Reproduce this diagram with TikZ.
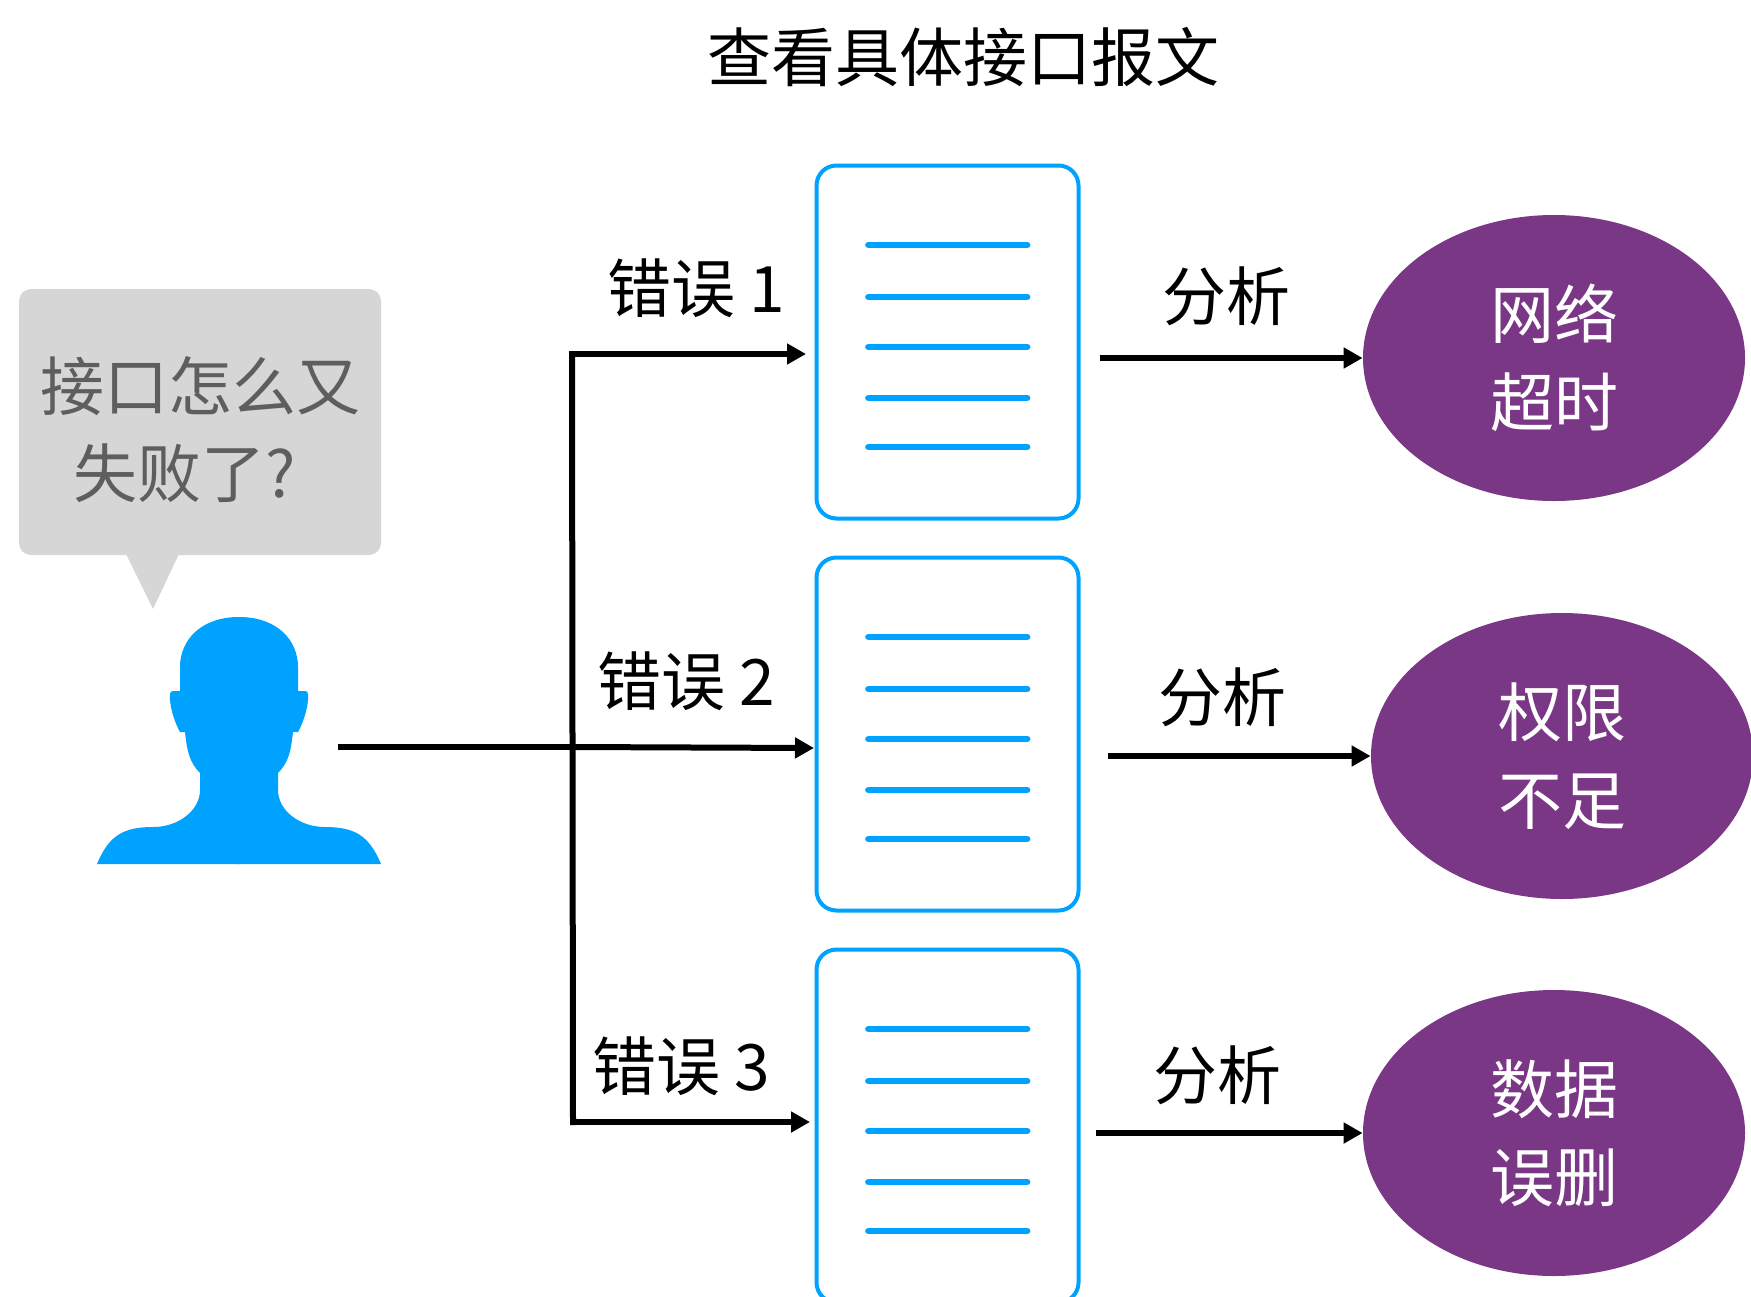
\documentclass[tikz,border=0pt]{standalone}
\usepackage{fontspec}
\setmainfont{Noto Sans CJK SC}
\usetikzlibrary{shapes.geometric}
\usetikzlibrary{arrows.meta}
\definecolor{logBlue}{RGB}{0,162,255}
\definecolor{problemPurple}{RGB}{122,55,133}
\definecolor{bubbleGrey}{RGB}{214,214,214}
\definecolor{bubbleText}{RGB}{94,94,94}
\tikzstyle{pagePixels} = [x = .5pt, y = -.5pt]
\tikzstyle{logBoxStyle} = [draw=logBlue, line width=2pt, rounded corners=10pt, minimum width=131pt, minimum height=176.5pt, inner sep=0pt]
\tikzstyle{logLine} = [color=logBlue, line width=3.4pt, line cap=round]
\tikzstyle{problemStyle} = [ellipse, fill=problemPurple, text=white, minimum width=191pt, minimum height=143pt, inner sep=0pt, align=center, font=\fontsize{32}{44}\selectfont]
\tikzstyle{flowLine} = [color=black, line width=3pt]
\tikzstyle{flowArrow} = [flowLine, -{Triangle[length=9.5pt, width=10pt]}]
\tikzstyle{flowText} = [font=\fontsize{32}{36}\selectfont, inner sep=0pt]
\tikzstyle{bubbleTextStyle} = [font=\fontsize{32}{36}\selectfont, inner sep=0pt, text=bubbleText]
\newcommand{\logBox}[2]{
  \node [logBoxStyle] (#1) at (947.5, #2) {};
  \foreach \offset in {-97,-45,5,56,105} {
    \draw [logLine] (868.5, #2 + \offset) -- (1027, #2 + \offset);
  }
}
\begin{document}
\begin{tikzpicture}[pagePixels]
  \useasboundingbox (0,0) rectangle (1751,1296);

  \node [font=\fontsize{32}{36}\selectfont, inner sep=0pt] (title) at (963,57) {查看具体接口报文};

  % bubble
  \fill [bubbleGrey, rounded corners=6pt] (19,289) rectangle (381,555);
  \fill [bubbleGrey] (126,554) -- (179,554) -- (153,609) -- cycle;
  \node [bubbleTextStyle] (questionOne) at (200,386) {接口怎么又};
  \node [bubbleTextStyle] (questionTwo) at (185,473) {失败了?};

  % person
  \foreach \side in {1,-1} {
    \begin{scope}[shift={(239,0)}, xscale=\side]
      \fill [logBlue] (-1,617) -- (0,617) .. controls (38,617) and (59,640) .. (59,667)
        -- (59,691) -- (66,691) .. controls (70,691) and (69,696) .. (69,700)
        .. controls (68,712) and (63,725) .. (59,732) -- (54,732)
        .. controls (52,750) and (50,762) .. (39,773) -- (39,790)
        .. controls (39,810) and (60,827) .. (86,827)
        .. controls (115,827) and (130,835) .. (142,864) -- (-1,864) -- cycle;
    \end{scope}
  }

  \logBox{logOne}{342}
  \logBox{logTwo}{734}
  \logBox{logThree}{1126}

  \node [problemStyle] (problemOne) at (1554,358) {网络\\超时};
  \node [problemStyle] (problemTwo) at (1562,756) {权限\\不足};
  \node [problemStyle] (problemThree) at (1554,1133) {数据\\误删};

  \coordinate (userEnd) at (338,747);
  \coordinate (branchTop) at (572,354);
  \coordinate (branchMid) at (573,747);
  \coordinate (branchBottom) at (573,1122);
  \coordinate (errorOneEnd) at (806,354);
  \coordinate (errorTwoEnd) at (814,748);
  \coordinate (errorThreeEnd) at (810,1122);
  \coordinate (reasonOneStart) at (1100,358);
  \coordinate (reasonTwoStart) at (1108,756);
  \coordinate (reasonThreeStart) at (1096,1133);

  \draw [flowLine] (userEnd) -- (branchMid);
  \draw [flowArrow] (branchMid) -- (errorTwoEnd);
  \draw [flowArrow] (branchTop) -- (errorOneEnd);
  \draw [flowArrow] (branchBottom) -- (errorThreeEnd);
  \draw [flowLine, line cap=rect] (branchTop) -- (branchBottom);

  \draw [flowArrow] (reasonOneStart) -- (problemOne.west);
  \draw [flowArrow] (reasonTwoStart) -- (problemTwo.west);
  \draw [flowArrow] (reasonThreeStart) -- (problemThree.west);

  \node [flowText] (errorOne) at (696,288) {错误 1};
  \node [flowText] (errorTwo) at (686,681) {错误 2};
  \node [flowText] (errorThree) at (681,1066) {错误 3};
  \node [flowText] (reasonOne) at (1226,296) {分析};
  \node [flowText] (reasonTwo) at (1222,697) {分析};
  \node [flowText] (reasonThree) at (1217,1075) {分析};
\end{tikzpicture}
\end{document}
